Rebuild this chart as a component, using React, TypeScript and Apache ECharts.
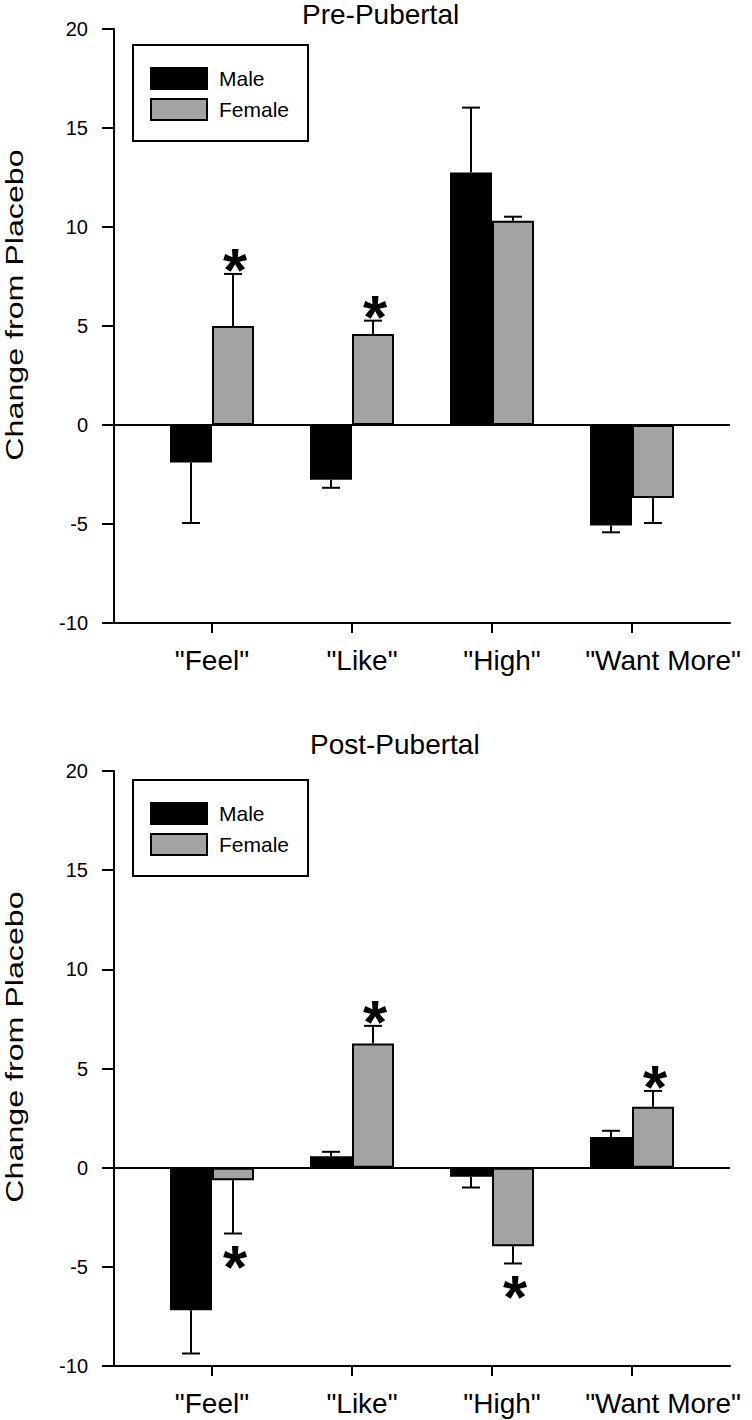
import React, { useEffect, useRef } from "react";
import * as echarts from "echarts";

const categories = ['"Feel"', '"Like"', '"High"', '"Want More"'];
const categoryPositions = [1, 2, 3, 4];
const yTicks = [-10, -5, 0, 5, 10, 15, 20];

const preMale = [-1.9, -2.77, 12.75, -5.08];
const preMaleErr = [3.05, 0.4, 3.28, 0.34];
const preMaleSig = [false, false, false, false];
const preFemale = [5.0, 4.6, 10.32, -3.69];
const preFemaleErr = [2.63, 0.67, 0.2, 1.26];
const preFemaleSig = [true, true, false, false];

const postMale = [-7.19, 0.58, -0.46, 1.55];
const postMaleErr = [2.18, 0.22, 0.54, 0.31];
const postMaleSig = [false, false, false, false];
const postFemale = [-0.63, 6.26, -3.96, 3.07];
const postFemaleErr = [2.69, 0.89, 0.87, 0.8];
const postFemaleSig = [true, true, true, true];

const titles = ["Pre-Pubertal", "Post-Pubertal"];
const yName = "Change from Placebo";
const legendNames = ["Male", "Female"];

const FONT = "Liberation Sans, Arial, sans-serif";
const BAR_W = 42;
const GRAY = "#a3a3a3";
const LABEL_SHIFT = [0, 10, 10, 31];
const STAR_SIZE = 62;

export default function App() {
  const ref = useRef<HTMLDivElement>(null);
  useEffect(() => {
    if (!ref.current) return;
    const chart = echarts.init(ref.current, undefined, { renderer: "svg" });

    const grids = [
      { left: 114, top: 29, width: 616, height: 594 },
      { left: 114, top: 771, width: 616, height: 595 },
    ];

    const rich: Record<string, any> = {};
    LABEL_SHIFT.forEach((s, i) => {
      rich["c" + i] = { fontFamily: FONT, fontSize: 28, color: "#000", padding: [0, 0, 0, 2 * s] };
    });

    const xAxes = grids.map((_, i) => ({
      type: "value",
      gridIndex: i,
      min: 0.3,
      max: 4.7,
      axisLine: { onZero: false, lineStyle: { color: "#000", width: 2 } },
      axisTick: { show: true, length: 10, customValues: categoryPositions, lineStyle: { color: "#000", width: 2 } },
      axisLabel: {
        customValues: categoryPositions,
        formatter: (v: number) => {
          const k = Math.round(v) - 1;
          return categories[k] ? `{c${k}|${categories[k]}}` : "";
        },
        rich,
        color: "#000",
        fontFamily: FONT,
        fontSize: 28,
        margin: 23,
      },
      splitLine: { show: false },
    }));

    const yAxes = grids.map((_, i) => ({
      type: "value",
      gridIndex: i,
      min: yTicks[0],
      max: yTicks[yTicks.length - 1],
      interval: 5,
      axisLine: { show: true, onZero: false, lineStyle: { color: "#000", width: 2 } },
      axisTick: { show: true, length: 12, lineStyle: { color: "#000", width: 2 } },
      axisLabel: { color: "#000", fontFamily: FONT, fontSize: 20, margin: 26 },
      splitLine: { show: false },
    }));

    const barSeries = (name: string, idx: number, values: number[], color: string, withZero: boolean) => ({
      type: "bar",
      name,
      xAxisIndex: idx,
      yAxisIndex: idx,
      barWidth: BAR_W,
      barGap: "0%",
      data: values.map((v, i) => [categoryPositions[i], v]),
      itemStyle: { color, borderColor: "#000", borderWidth: 2 },
      z: 2,
      markLine: withZero
        ? {
            silent: true,
            symbol: ["none", "none"],
            label: { show: false },
            lineStyle: { color: "#000", width: 2, type: "solid" },
            data: [{ yAxis: 0 }],
            z: 3,
          }
        : undefined,
    });

    const errSeries = (idx: number, values: number[], errs: number[], sigs: boolean[], side: number) => ({
      type: "custom",
      xAxisIndex: idx,
      yAxisIndex: idx,
      silent: true,
      z: 4,
      encode: { x: 0, y: 1 },
      data: values.map((v, i) => [categoryPositions[i], v, errs[i], sigs[i] ? 1 : 0]),
      renderItem: (params: any, api: any) => {
        const x = api.value(0);
        const v = api.value(1);
        const e = api.value(2);
        const s = api.value(3);
        const dir = v >= 0 ? 1 : -1;
        const base = api.coord([x, v]);
        const end = api.coord([x, v + dir * e]);
        const cx = base[0] + (side * BAR_W) / 2;
        const children: any[] = [
          { type: "line", shape: { x1: cx, y1: base[1], x2: cx, y2: end[1] }, style: { stroke: "#000", lineWidth: 2 } },
          { type: "line", shape: { x1: cx - 9, y1: end[1], x2: cx + 9, y2: end[1] }, style: { stroke: "#000", lineWidth: 2 } },
        ];
        if (s) {
          children.push({
            type: "text",
            x: cx + 2,
            y: end[1] + (dir > 0 ? -17 : 21) + 0.2 * STAR_SIZE,
            style: {
              text: "*",
              align: "center",
              verticalAlign: "middle",
              fontFamily: FONT,
              fontWeight: "bold",
              fontSize: STAR_SIZE,
              fill: "#000",
            },
          });
        }
        return { type: "group", children };
      },
    });

    chart.setOption({
      animation: false,
      backgroundColor: "#fff",
      title: [
        { text: titles[0], left: 302, top: 0, padding: 0, textStyle: { fontFamily: FONT, fontSize: 28, fontWeight: "normal", color: "#000" } },
        { text: titles[1], left: 310, top: 730, padding: 0, textStyle: { fontFamily: FONT, fontSize: 28, fontWeight: "normal", color: "#000" } },
      ],
      legend: [45, 780].map((top) => ({
        data: legendNames,
        left: 133,
        top,
        orient: "vertical",
        icon: "rect",
        itemWidth: 56,
        itemHeight: 21,
        itemGap: 8,
        padding: [22, 19, 20, 17],
        borderColor: "#000",
        borderWidth: 2,
        selectedMode: false,
        textStyle: { fontFamily: FONT, fontSize: 21, color: "#000", padding: [0, 0, 0, 7] },
      })),
      grid: grids,
      xAxis: xAxes,
      yAxis: yAxes,
      graphic: [305, 1047].map((y) => ({
        type: "text",
        x: 15,
        y,
        rotation: Math.PI / 2,
        scaleX: 1.4,
        style: { text: yName, align: "center", verticalAlign: "middle", fontFamily: FONT, fontSize: 23, fill: "#000" },
      })),
      series: [
        barSeries(legendNames[0], 0, preMale, "#000", true),
        barSeries(legendNames[1], 0, preFemale, GRAY, false),
        barSeries(legendNames[0], 1, postMale, "#000", true),
        barSeries(legendNames[1], 1, postFemale, GRAY, false),
        errSeries(0, preMale, preMaleErr, preMaleSig, -1),
        errSeries(0, preFemale, preFemaleErr, preFemaleSig, 1),
        errSeries(1, postMale, postMaleErr, postMaleSig, -1),
        errSeries(1, postFemale, postFemaleErr, postFemaleSig, 1),
      ],
    });
    return () => chart.dispose();
  }, []);
  return <div ref={ref} style={{ position: "absolute", left: 0, top: 0, width: 752, height: 1420 }} />;
}
